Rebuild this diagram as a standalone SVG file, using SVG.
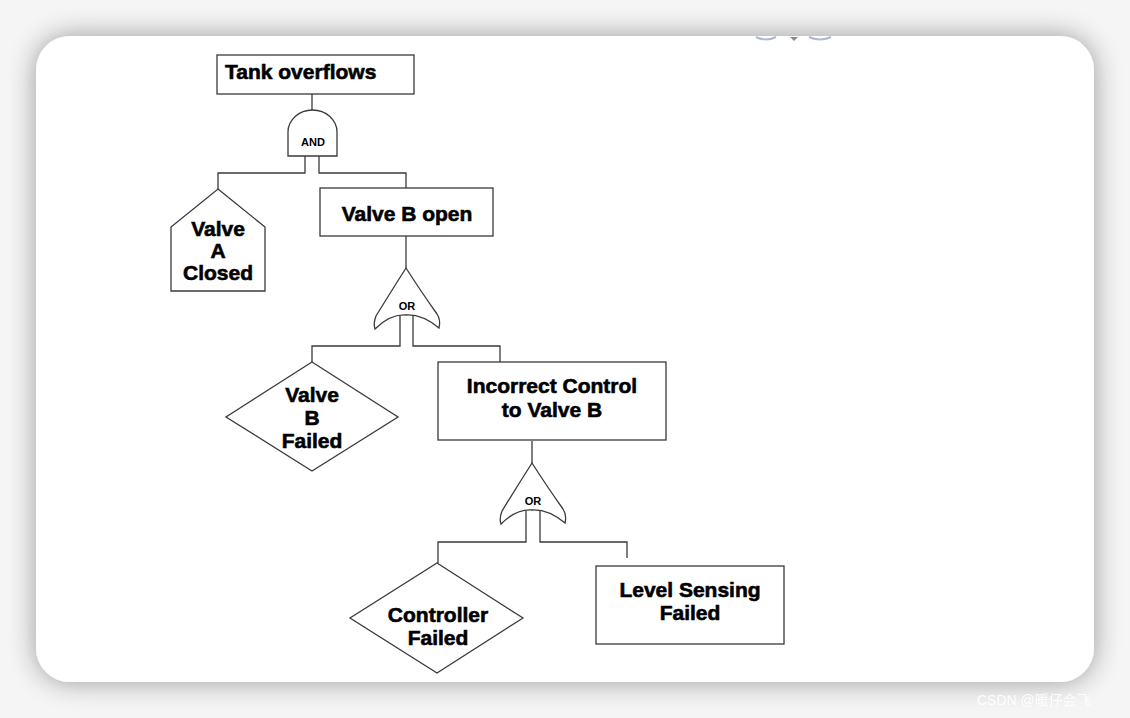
<svg xmlns="http://www.w3.org/2000/svg" width="1130" height="718" viewBox="0 0 1130 718">
  <defs>
    <filter id="shadow" x="-10%" y="-10%" width="120%" height="120%">
      <feGaussianBlur in="SourceAlpha" stdDeviation="14"/>
      <feComponentTransfer><feFuncA type="linear" slope="0.38"/></feComponentTransfer>
      <feMerge><feMergeNode/><feMergeNode in="SourceGraphic"/></feMerge>
    </filter>
    <path id="orShape" d="M0,0 Q-14,22 -30,48 Q-33,56 -31,61 Q-16,46 0,47 Q16,46 33,60 Q35,52 31,46 Q14,22 0,0 Z"/>
  </defs>
  <style>
    .shape { fill: #fff; stroke: #3a3a3a; stroke-width: 1.3; }
    .conn { fill: none; stroke: #3a3a3a; stroke-width: 1.3; }
    .lbl { font-family: "Liberation Sans", Arial, sans-serif; font-weight: bold; font-size: 21px; fill: #000; stroke: #000; stroke-width: 0.6; text-anchor: middle; }
    .gate { font-family: "Liberation Sans", Arial, sans-serif; font-weight: bold; font-size: 11px; fill: #000; text-anchor: middle; }
  </style>
  <rect width="1130" height="718" fill="#f5f5f5"/>
  <rect x="36" y="36" width="1058" height="646" rx="34" fill="#fff" filter="url(#shadow)"/>
  <g id="artifacts" fill="none" stroke="#8e9bc0" stroke-width="2" opacity="0.7">
    <path d="M756,37 Q766,42 776,37"/>
    <path d="M809,37 Q820,42 831,37"/>
    <path d="M790,37 L794,41 L798,37 Z" fill="#555a6a" stroke="none"/>
  </g>

  <g id="connectors">
    <path class="conn" d="M312,94 V110"/>
    <path class="conn" d="M305,150 V173 H218 V189"/>
    <path class="conn" d="M319,150 V173 H406 V188"/>
    <path class="conn" d="M406,236 V268"/>
    <path class="conn" d="M400,316 V346 H312 V362"/>
    <path class="conn" d="M413,316 V346 H500 V362"/>
    <path class="conn" d="M532,441 V463"/>
    <path class="conn" d="M526,511 V542 H438 V563"/>
    <path class="conn" d="M540,511 V542 H627 V558"/>
  </g>

  <g id="tank-overflows">
    <rect class="shape" x="217" y="55" width="197" height="39"/>
    <text class="lbl" x="225" y="79" style="text-anchor:start">Tank overflows</text>
  </g>

  <g id="and-gate">
    <path class="shape" d="M288,156 L288,132 A24.5,22 0 0 1 337,132 L337,156 Z"/>
    <text class="gate" x="313" y="146">AND</text>
  </g>

  <g id="valve-a-closed">
    <path class="shape" d="M218,189 L265,227 L265,291 L171,291 L171,227 Z"/>
    <text class="lbl" x="218" y="236">Valve</text>
    <text class="lbl" x="218" y="258">A</text>
    <text class="lbl" x="218" y="280">Closed</text>
  </g>

  <g id="valve-b-open">
    <rect class="shape" x="320" y="188" width="173" height="48"/>
    <text class="lbl" x="407" y="221">Valve B open</text>
  </g>

  <g id="or-gate-1">
    <use href="#orShape" class="shape" transform="translate(406,268)"/>
    <text class="gate" x="407" y="310">OR</text>
  </g>

  <g id="valve-b-failed">
    <path class="shape" d="M312,362 L398,417 L312,471 L226,417 Z"/>
    <text class="lbl" x="312" y="402">Valve</text>
    <text class="lbl" x="312" y="425">B</text>
    <text class="lbl" x="312" y="448">Failed</text>
  </g>

  <g id="incorrect-control">
    <rect class="shape" x="438" y="362" width="228" height="78"/>
    <text class="lbl" x="552" y="393">Incorrect Control</text>
    <text class="lbl" x="552" y="417">to Valve B</text>
  </g>

  <g id="or-gate-2">
    <use href="#orShape" class="shape" transform="translate(532,463)"/>
    <text class="gate" x="533" y="505">OR</text>
  </g>

  <g id="controller-failed">
    <path class="shape" d="M437,563 L523,618 L437,673 L350,618 Z"/>
    <text class="lbl" x="438" y="622">Controller</text>
    <text class="lbl" x="438" y="645">Failed</text>
  </g>

  <g id="level-sensing-failed">
    <rect class="shape" x="596" y="566" width="188" height="78"/>
    <text class="lbl" x="690" y="597">Level Sensing</text>
    <text class="lbl" x="690" y="620">Failed</text>
  </g>

  <text x="977" y="705" font-family="Liberation Sans, 'Noto Sans CJK SC', sans-serif" font-size="14" fill="#ffffff" opacity="0.9">CSDN @暖仔会飞</text>
</svg>
